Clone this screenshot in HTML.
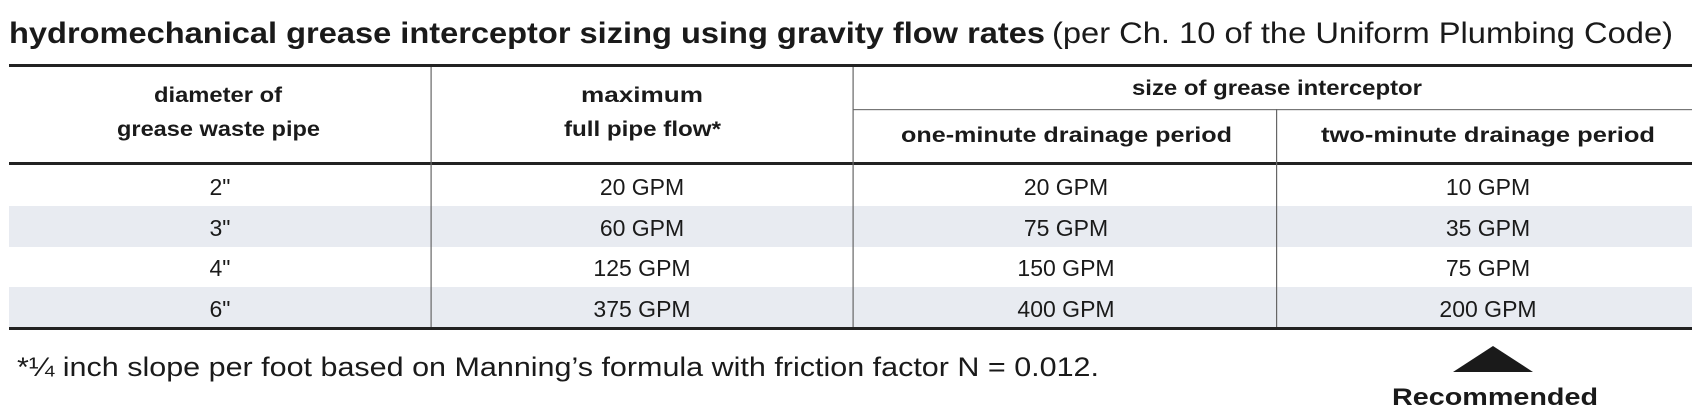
<!DOCTYPE html>
<html><head><meta charset="utf-8"><style>
html,body{margin:0;padding:0;background:#fff}
svg{display:block}
text{font-family:"Liberation Sans",sans-serif;fill:#1a1a1a}
.h{font-weight:bold;font-size:21px}
.c{font-size:23px}
</style></head><body>
<svg width="1698" height="418" viewBox="0 0 1698 418">
<rect x="9" y="206" width="1683" height="41" fill="#e8ebf1"/>
<rect x="9" y="287" width="1683" height="42" fill="#e8ebf1"/>
<text x="9" y="43" font-size="30" font-weight="bold" textLength="1036" lengthAdjust="spacingAndGlyphs">hydromechanical grease interceptor sizing using gravity flow rates</text>
<text x="1052" y="43" font-size="30" textLength="621" lengthAdjust="spacingAndGlyphs">(per Ch. 10 of the Uniform Plumbing Code)</text>
<rect x="9" y="64" width="1683" height="3" fill="#222"/>
<rect x="9" y="162" width="1683" height="3" fill="#222"/>
<rect x="9" y="327" width="1683" height="3" fill="#222"/>
<rect x="853" y="109" width="839" height="1.2" fill="#777"/>
<rect x="430.5" y="67" width="1.2" height="260" fill="#666"/>
<rect x="852.5" y="67" width="1.2" height="260" fill="#666"/>
<rect x="1276" y="109" width="1.2" height="218" fill="#666"/>
<text class="h" x="154" y="102" textLength="128" lengthAdjust="spacingAndGlyphs">diameter of</text>
<text class="h" x="117" y="136" textLength="203" lengthAdjust="spacingAndGlyphs">grease waste pipe</text>
<text class="h" x="581" y="102" textLength="122" lengthAdjust="spacingAndGlyphs">maximum</text>
<text class="h" x="564" y="136" textLength="157" lengthAdjust="spacingAndGlyphs">full pipe flow*</text>
<text class="h" x="1132" y="95" textLength="290" lengthAdjust="spacingAndGlyphs">size of grease interceptor</text>
<text class="h" x="901" y="142" textLength="331" lengthAdjust="spacingAndGlyphs">one-minute drainage period</text>
<text class="h" x="1321" y="142" textLength="334" lengthAdjust="spacingAndGlyphs">two-minute drainage period</text>
<g class="c" text-anchor="middle">
<text x="220" y="195">2"</text><text x="642" y="195">20 GPM</text><text x="1066" y="195">20 GPM</text><text x="1488" y="195">10 GPM</text>
<text x="220" y="236">3"</text><text x="642" y="236">60 GPM</text><text x="1066" y="236">75 GPM</text><text x="1488" y="236">35 GPM</text>
<text x="220" y="276">4"</text><text x="642" y="276">125 GPM</text><text x="1066" y="276">150 GPM</text><text x="1488" y="276">75 GPM</text>
<text x="220" y="317">6"</text><text x="642" y="317">375 GPM</text><text x="1066" y="317">400 GPM</text><text x="1488" y="317">200 GPM</text>
</g>
<text x="17" y="376" font-size="27" textLength="1082" lengthAdjust="spacingAndGlyphs">*¼ inch slope per foot based on Manning’s formula with friction factor N = 0.012.</text>
<polygon points="1493,346 1533,372 1453,372" fill="#1a1a1a"/>
<text x="1392" y="405" font-size="24" font-weight="bold" textLength="206" lengthAdjust="spacingAndGlyphs">Recommended</text>
</svg>
</body></html>
